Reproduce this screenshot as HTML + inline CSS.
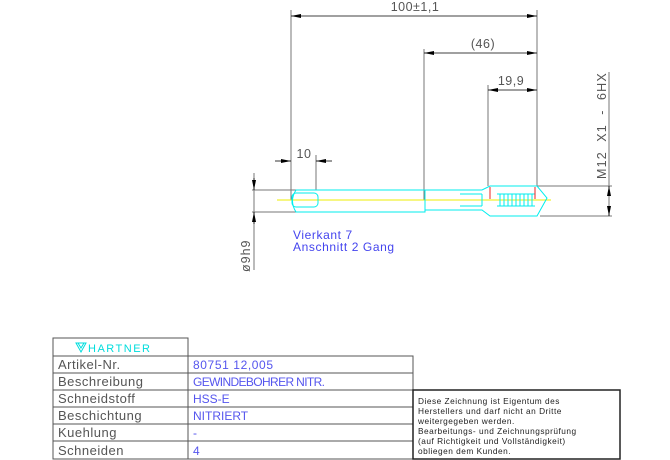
<!DOCTYPE html>
<html><head><style>body{margin:0;background:#fff}svg{display:block}text{font-family:"Liberation Sans",sans-serif}</style></head>
<body>
<svg width="670" height="460" viewBox="0 0 670 460" xmlns="http://www.w3.org/2000/svg">
<defs>
<marker id="a" viewBox="0 0 10 4" refX="10" refY="2" markerWidth="10" markerHeight="4" orient="auto-start-reverse" markerUnits="userSpaceOnUse"><path d="M0,0L10,2L0,4z" fill="#000"/></marker>
</defs>
<g stroke="#777" stroke-width="1" fill="none">
<line x1="291" y1="10" x2="291" y2="200"/>
<line x1="537" y1="10" x2="537" y2="186"/>
<line x1="424" y1="49" x2="424" y2="200"/>
<line x1="488" y1="85" x2="488" y2="186"/>
<line x1="316" y1="155" x2="316" y2="190"/>
<line x1="609" y1="72" x2="609" y2="216"/>
<line x1="537" y1="186" x2="612" y2="186"/>
<line x1="540" y1="216" x2="612" y2="216"/>
<line x1="252" y1="190" x2="424" y2="190"/>
<line x1="252" y1="212" x2="320" y2="212"/>
<line x1="254" y1="173" x2="254" y2="270"/>
</g>
<g stroke="#000" stroke-width="0.8">
<line x1="291" y1="16" x2="537" y2="16" marker-start="url(#a)" marker-end="url(#a)"/>
<line x1="424" y1="53" x2="537" y2="53" marker-start="url(#a)" marker-end="url(#a)"/>
<line x1="488" y1="90" x2="537" y2="90" marker-start="url(#a)" marker-end="url(#a)"/>
<line x1="275" y1="161" x2="291" y2="161" marker-end="url(#a)"/>
<line x1="332" y1="161" x2="316" y2="161" marker-end="url(#a)"/>
<line x1="609" y1="195" x2="609" y2="186" marker-end="url(#a)"/>
<line x1="609" y1="207" x2="609" y2="216" marker-end="url(#a)"/>
<line x1="254" y1="178" x2="254" y2="190" marker-end="url(#a)"/>
<line x1="254" y1="224" x2="254" y2="212" marker-end="url(#a)"/>
</g>
<g font-size="12.5" fill="#555" letter-spacing="0.5">
<text x="415" y="11" text-anchor="middle">100±1,1</text>
<text x="483" y="48" text-anchor="middle">(46)</text>
<text x="511" y="85" text-anchor="middle">19,9</text>
<text x="304" y="158" text-anchor="middle">10</text>
<text transform="translate(606,179) rotate(-90)" letter-spacing="1.2" xml:space="preserve">M12  X1  -  6HX</text>
<text transform="translate(250,272) rotate(-90)" letter-spacing="1">ø9h9</text>
</g>
<line x1="277" y1="200" x2="551" y2="200" stroke="#ee0" stroke-width="1"/>
<g stroke="#0ee" stroke-width="1" fill="none">
<path d="M296,190 H425 V212 H296 Q289,201 296,190z"/>
<rect x="292" y="193" width="26" height="14" rx="4"/>
<path d="M425,190 H482 L490,186 H537 L547,198 L537,216 H490 L482,210 H425"/>
<path d="M460,194 H482 M460,206 H482 M482,194 V206"/>
<path d="M497,194 H535 M497,206 H535"/>
<path d="M500,194 V206 M504,194 V206 M508,194 V206 M512,194 V206 M516,194 V206 M520,194 V206 M524,194 V206 M528,194 V206 M532,194 V206"/>
</g>
<line x1="490" y1="187" x2="490" y2="199" stroke="#e22"/>
<line x1="535" y1="187" x2="535" y2="199" stroke="#e22"/>
<g font-size="12" fill="#44e" letter-spacing="0.6">
<text x="293" y="239">Vierkant 7</text>
<text x="293" y="251">Anschnitt 2 Gang</text>
</g>
<g stroke="#555" stroke-width="1" fill="none">
<rect x="53" y="338" width="135" height="121"/>
<rect x="188" y="356" width="225" height="103"/>
<line x1="188" y1="338" x2="188" y2="356"/>
<line x1="53" y1="356" x2="413" y2="356"/>
<line x1="53" y1="373" x2="413" y2="373"/>
<line x1="53" y1="390" x2="413" y2="390"/>
<line x1="53" y1="407" x2="413" y2="407"/>
<line x1="53" y1="424" x2="413" y2="424"/>
<line x1="53" y1="441" x2="413" y2="441"/>
<rect x="413" y="390" width="207" height="69" stroke="#222" stroke-width="1.5"/>
</g>
<text x="88" y="352" font-size="11" fill="#0dd" letter-spacing="1.5">HARTNER</text>
<path d="M76,343 H86 L81,352z M78,343 L81,348 L84,343" stroke="#0dd" fill="none"/>
<g font-size="13" fill="#555" letter-spacing="0.5">
<text x="58" y="369">Artikel-Nr.</text>
<text x="58" y="386">Beschreibung</text>
<text x="58" y="403">Schneidstoff</text>
<text x="58" y="420">Beschichtung</text>
<text x="58" y="437">Kuehlung</text>
<text x="58" y="455">Schneiden</text>
</g>
<g font-size="12" fill="#55e">
<text x="193" y="369" letter-spacing="0.6">80751 12,005</text>
<text x="193" y="386" textLength="132">GEWINDEBOHRER NITR.</text>
<text x="193" y="403">HSS-E</text>
<text x="193" y="420">NITRIERT</text>
<text x="193" y="437">-</text>
<text x="193" y="455">4</text>
</g>
<g font-size="8.3" fill="#222" letter-spacing="0.5">
<text x="418" y="404">Diese Zeichnung ist Eigentum des</text>
<text x="418" y="414">Herstellers und darf nicht an Dritte</text>
<text x="418" y="424">weitergegeben werden.</text>
<text x="418" y="434">Bearbeitungs- und Zeichnungsprüfung</text>
<text x="418" y="444">(auf Richtigkeit und Vollständigkeit)</text>
<text x="418" y="454">obliegen dem Kunden.</text>
</g>
</svg>
</body></html>
